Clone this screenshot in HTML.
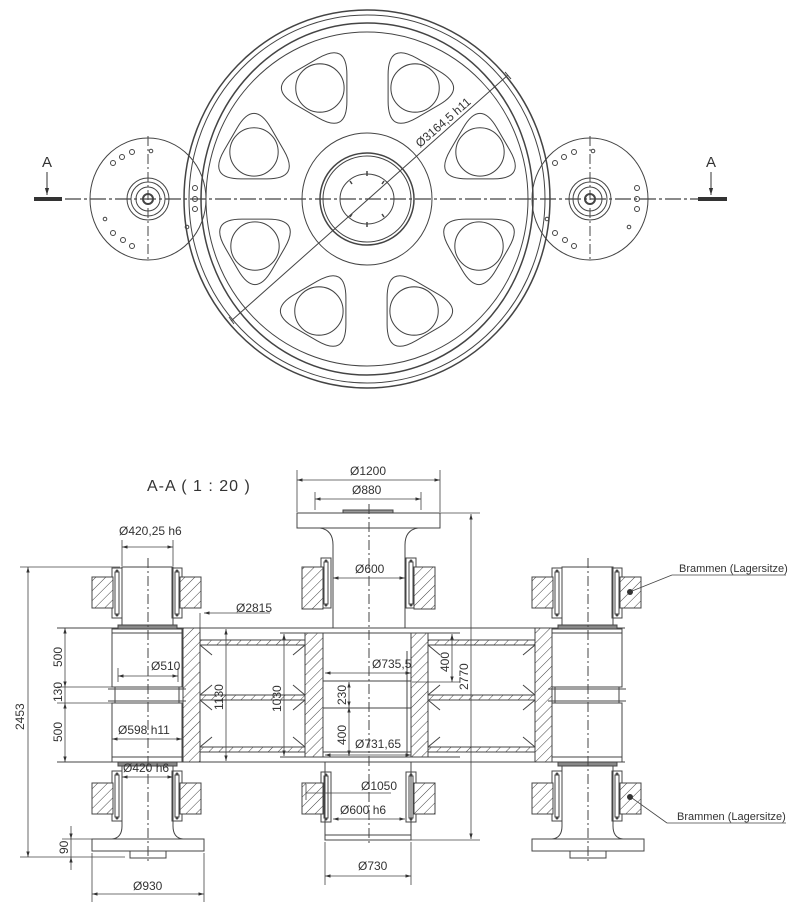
<!DOCTYPE html>
<html><head><meta charset="utf-8"><style>
html,body{margin:0;padding:0;background:#fff;}
svg{display:block;}
text{font-family:"Liberation Sans",sans-serif;fill:#333;}
</style></head><body>
<svg width="800" height="909" viewBox="0 0 800 909" xmlns="http://www.w3.org/2000/svg">
<defs>
<pattern id="h" patternUnits="userSpaceOnUse" width="7" height="7" patternTransform="rotate(45)">
<rect width="7" height="7" fill="#fff"/><line x1="0" y1="0" x2="0" y2="7" stroke="#444" stroke-width="1"/>
</pattern>
<marker id="a" viewBox="0 0 10 10" refX="10" refY="5" markerWidth="7" markerHeight="7" orient="auto-start-reverse"><path d="M0,2 L10,5 L0,8 z" fill="#333"/></marker>
<g id="hole">
<g transform="scale(0.93)">
<path d="M30,-14 L30,14 Q30,50 -1.1,31.9 L-24.9,18.1 Q-56,0 -24.9,-18.1 L-1.1,-31.9 Q30,-50 30,-14 Z" fill="none" stroke="#444" stroke-width="1.1"/>
<circle cx="1" cy="0" r="26" fill="none" stroke="#444" stroke-width="1.1"/>
</g>
</g>
<g id="side" fill="none" stroke="#444" stroke-width="1">
<ellipse cx="0" cy="0" rx="58" ry="61"/>
<circle r="21"/><circle r="17"/><circle r="12"/><circle r="5" stroke-width="2"/>
<circle cx="-35" cy="-36" r="2.5"/><circle cx="-26" cy="-42" r="2.5"/><circle cx="-16" cy="-47" r="2.5"/>
<circle cx="3" cy="-48" r="1.8"/>
<circle cx="47" cy="-11" r="2.5"/><circle cx="47" cy="0" r="2.5"/><circle cx="47" cy="10" r="2.5"/>
<circle cx="39" cy="28" r="1.8"/>
<circle cx="-35" cy="34" r="2.5"/><circle cx="-25" cy="41" r="2.5"/><circle cx="-16" cy="47" r="2.5"/>
<circle cx="-43" cy="20" r="1.8"/>
<line x1="0" y1="-63" x2="0" y2="63" stroke-dasharray="10,3,2,3"/>
</g>
<g id="brk" fill="none" stroke="#444" stroke-width="1">
<rect x="0" y="0" width="10" height="50"/><rect x="3" y="4" width="4" height="42"/>
<circle cx="5" cy="3" r="1" fill="#444"/><circle cx="5" cy="47" r="1" fill="#444"/>
</g>
<g id="unit" fill="none" stroke="#444" stroke-width="1">
<rect x="-26" y="567" width="51" height="59"/>
<use href="#brk" x="-36" y="568"/><use href="#brk" x="24" y="568"/>
<rect x="-56" y="577" width="21" height="31" fill="url(#h)"/>
<rect x="32" y="577" width="21" height="31" fill="url(#h)"/>
<rect x="-30" y="625" width="59" height="4" fill="#888"/>
<rect x="-36" y="629" width="70" height="58"/>
<line x1="-36" y1="633" x2="34" y2="633"/>
<rect x="-33" y="687" width="64" height="16"/>
<line x1="-40" y1="689" x2="38" y2="689"/><line x1="-40" y1="701" x2="38" y2="701"/>
<rect x="-36" y="703" width="70" height="59"/>
<line x1="-36" y1="757" x2="34" y2="757"/>
<rect x="-30" y="762" width="59" height="4" fill="#888"/>
<path d="M-26,766 L-26,826 Q-26,838 -36,839 M25,766 L25,826 Q25,838 35,839"/>
<use href="#brk" x="-36" y="771"/><use href="#brk" x="24" y="771"/>
<rect x="-56" y="783" width="21" height="31" fill="url(#h)"/>
<rect x="32" y="783" width="21" height="31" fill="url(#h)"/>
<rect x="-56" y="839" width="112" height="12"/>
<rect x="-18" y="851" width="36" height="7"/>
<line x1="0" y1="558" x2="0" y2="862" stroke-dasharray="10,3,2,3"/>
</g>
</defs>

<g fill="none" stroke="#444" stroke-width="1">
<ellipse cx="367" cy="199" rx="183" ry="189" stroke-width="1.5"/>
<ellipse cx="367" cy="199" rx="178" ry="184"/>
<ellipse cx="367" cy="199" rx="166" ry="176" stroke-width="1.5"/>
<ellipse cx="367" cy="199" rx="161" ry="167"/>
<ellipse cx="367" cy="199" rx="65" ry="66"/>
<ellipse cx="367" cy="199" rx="47" ry="46" stroke-width="1.5"/>
<ellipse cx="367" cy="199" rx="44" ry="43"/>
<ellipse cx="367" cy="199" rx="27" ry="25"/>
<g stroke-width="1.5">
<line x1="367" y1="171" x2="367" y2="176"/><line x1="367" y1="222" x2="367" y2="227"/>
<line x1="350" y1="181" x2="352" y2="184"/><line x1="384" y1="181" x2="382" y2="184"/>
<line x1="350" y1="217" x2="352" y2="214"/><line x1="384" y1="217" x2="382" y2="214"/>
</g>
<use href="#hole" transform="translate(319,88)"/>
<use href="#hole" transform="translate(416,88) scale(-1,1)"/>
<use href="#hole" transform="translate(480,151) rotate(90)"/>
<use href="#hole" transform="translate(479,247) rotate(-90)"/>
<use href="#hole" transform="translate(254,151) rotate(90)"/>
<use href="#hole" transform="translate(255,247) rotate(-90)"/>
<use href="#hole" transform="translate(318,311)"/>
<use href="#hole" transform="translate(415,311) scale(-1,1)"/>
<line x1="231" y1="321" x2="508" y2="75"/>
<line x1="229" y1="317" x2="234" y2="324"/><line x1="505" y1="72" x2="511" y2="79"/>
</g>
<text x="0" y="0" font-size="12" transform="translate(420,148) rotate(-41)">Ø3164,5 h11</text>
<use href="#side" x="148" y="199"/>
<use href="#side" x="590" y="199"/>
<line x1="40" y1="199" x2="720" y2="199" stroke="#444" stroke-width="1.3" stroke-dasharray="16,3,3,3"/>
<line x1="34" y1="199" x2="62" y2="199" stroke="#333" stroke-width="4"/>
<line x1="698" y1="199" x2="727" y2="199" stroke="#333" stroke-width="4"/>
<line x1="47" y1="172" x2="47" y2="195" stroke="#333" marker-end="url(#a)"/>
<line x1="711" y1="172" x2="711" y2="195" stroke="#333" marker-end="url(#a)"/>
<text x="42" y="167" font-size="15">A</text>
<text x="706" y="167" font-size="15">A</text>

<text x="147" y="491" font-size="16" letter-spacing="1">A-A ( 1 : 20 )</text>

<g fill="none" stroke="#444" stroke-width="1">
<line x1="57" y1="628" x2="625" y2="628"/>
<line x1="57" y1="762" x2="625" y2="762"/>
<line x1="280" y1="633" x2="460" y2="633"/>
<line x1="280" y1="757" x2="460" y2="757"/>
<rect x="183" y="628" width="17" height="134" fill="url(#h)"/>
<rect x="535" y="628" width="17" height="134" fill="url(#h)"/>
<rect x="200" y="640" width="105" height="5" fill="url(#h)"/>
<rect x="200" y="695" width="105" height="5" fill="url(#h)"/>
<rect x="200" y="747" width="105" height="5" fill="url(#h)"/>
<rect x="428" y="640" width="107" height="5" fill="url(#h)"/>
<rect x="428" y="695" width="107" height="5" fill="url(#h)"/>
<rect x="428" y="747" width="107" height="5" fill="url(#h)"/>
<path d="M200,645 L212,655 M200,695 L212,685 M200,700 L212,710 M200,747 L212,737 M305,645 L293,655 M305,695 L293,685 M305,700 L293,710 M305,747 L293,737"/>
<path d="M535,645 L523,655 M535,695 L523,685 M535,700 L523,710 M535,747 L523,737 M428,645 L440,655 M428,695 L440,685 M428,700 L440,710 M428,747 L440,737"/>
<rect x="305" y="633" width="18" height="124" fill="url(#h)"/>
<rect x="411" y="633" width="17" height="124" fill="url(#h)"/>
<rect x="323" y="681" width="88" height="27"/>
<line x1="407" y1="651" x2="407" y2="757"/>
<line x1="323" y1="752" x2="411" y2="752"/>
<rect x="297" y="513" width="143" height="15"/>
<rect x="343" y="510" width="50" height="3" fill="#999"/>
<path d="M333,628 L333,545 Q333,530 320,528 M405,628 L405,545 Q405,530 418,528"/>
<use href="#brk" x="321" y="558"/><use href="#brk" x="406" y="558"/>
<rect x="302" y="567" width="21" height="42" fill="url(#h)"/>
<rect x="414" y="567" width="21" height="42" fill="url(#h)"/>
<rect x="325" y="762" width="86" height="78"/>
<rect x="325" y="835" width="86" height="5"/>
<use href="#brk" x="321" y="772"/><use href="#brk" x="406" y="772"/>
<rect x="302" y="783" width="21" height="31" fill="url(#h)"/>
<rect x="414" y="783" width="21" height="31" fill="url(#h)"/>
<line x1="369" y1="504" x2="369" y2="845" stroke-dasharray="10,3,2,3"/>
</g>
<use href="#unit" x="148" y="0"/>
<use href="#unit" x="588" y="0"/>
<circle cx="630" cy="592" r="3" fill="#333"/>
<circle cx="630" cy="797" r="3" fill="#333"/>

<g fill="none" stroke="#444" stroke-width="0.8">
<line x1="297" y1="470" x2="297" y2="512"/><line x1="440" y1="470" x2="440" y2="512"/>
<line x1="297" y1="480" x2="440" y2="480" marker-start="url(#a)" marker-end="url(#a)"/>
<line x1="315" y1="492" x2="315" y2="510"/><line x1="421" y1="492" x2="421" y2="510"/>
<line x1="315" y1="499" x2="421" y2="499" marker-start="url(#a)" marker-end="url(#a)"/>
<line x1="122" y1="540" x2="122" y2="566"/><line x1="173" y1="540" x2="173" y2="566"/>
<line x1="122" y1="547" x2="173" y2="547" marker-start="url(#a)" marker-end="url(#a)"/>
<line x1="333" y1="578" x2="405" y2="578" marker-start="url(#a)" marker-end="url(#a)"/>
<line x1="270" y1="613" x2="204" y2="613" marker-end="url(#a)"/>
<line x1="200" y1="613" x2="200" y2="628"/>
<line x1="20" y1="567" x2="120" y2="567"/><line x1="20" y1="857" x2="125" y2="857"/>
<line x1="28" y1="567" x2="28" y2="857" marker-start="url(#a)" marker-end="url(#a)"/>
<line x1="57" y1="687" x2="112" y2="687"/><line x1="57" y1="703" x2="112" y2="703"/>
<line x1="65" y1="628" x2="65" y2="687" marker-start="url(#a)" marker-end="url(#a)"/>
<line x1="65" y1="687" x2="65" y2="703"/>
<line x1="65" y1="703" x2="65" y2="762" marker-start="url(#a)" marker-end="url(#a)"/>
<line x1="62" y1="839" x2="92" y2="839"/>
<line x1="71" y1="826" x2="71" y2="839" marker-end="url(#a)"/>
<line x1="71" y1="870" x2="71" y2="857" marker-end="url(#a)"/>
<line x1="71" y1="839" x2="71" y2="857"/>
<line x1="226" y1="629" x2="226" y2="761" marker-start="url(#a)" marker-end="url(#a)"/>
<line x1="284" y1="634" x2="284" y2="756" marker-start="url(#a)" marker-end="url(#a)"/>
<line x1="118" y1="668" x2="118" y2="682"/><line x1="178" y1="668" x2="178" y2="682"/>
<line x1="118" y1="676" x2="178" y2="676" marker-start="url(#a)" marker-end="url(#a)"/>
<line x1="325" y1="673" x2="411" y2="673" marker-start="url(#a)" marker-end="url(#a)"/>
<line x1="112" y1="739" x2="182" y2="739" marker-start="url(#a)" marker-end="url(#a)"/>
<line x1="325" y1="755" x2="411" y2="755" marker-start="url(#a)" marker-end="url(#a)"/>
<line x1="349" y1="682" x2="349" y2="707" marker-start="url(#a)" marker-end="url(#a)"/>
<line x1="349" y1="707" x2="349" y2="756" marker-start="url(#a)" marker-end="url(#a)"/>
<line x1="412" y1="682" x2="460" y2="682"/>
<line x1="452" y1="634" x2="452" y2="682" marker-start="url(#a)" marker-end="url(#a)"/>
<line x1="440" y1="513" x2="480" y2="513"/><line x1="411" y1="840" x2="480" y2="840"/>
<line x1="471" y1="514" x2="471" y2="839" marker-start="url(#a)" marker-end="url(#a)"/>
<line x1="122" y1="777" x2="173" y2="777" marker-start="url(#a)" marker-end="url(#a)"/>
<line x1="306" y1="793" x2="391" y2="793"/>
<line x1="306" y1="784" x2="306" y2="800"/>
<line x1="333" y1="819" x2="405" y2="819" marker-start="url(#a)" marker-end="url(#a)"/>
<line x1="325" y1="842" x2="325" y2="885"/><line x1="411" y1="842" x2="411" y2="885"/>
<line x1="325" y1="876" x2="411" y2="876" marker-start="url(#a)" marker-end="url(#a)"/>
<line x1="92" y1="853" x2="92" y2="902"/><line x1="204" y1="853" x2="204" y2="902"/>
<line x1="92" y1="894" x2="204" y2="894" marker-start="url(#a)" marker-end="url(#a)"/>
<line x1="632" y1="591" x2="672" y2="575"/><line x1="672" y1="575" x2="786" y2="575"/>
<line x1="632" y1="798" x2="667" y2="823"/><line x1="667" y1="823" x2="786" y2="823"/>
</g>
<g font-size="12">
<text x="350" y="475">Ø1200</text>
<text x="352" y="494">Ø880</text>
<text x="119" y="535">Ø420,25 h6</text>
<text x="355" y="573">Ø600</text>
<text x="236" y="612">Ø2815</text>
<text x="151" y="670">Ø510</text>
<text x="372" y="668">Ø735,5</text>
<text x="118" y="734">Ø598 h11</text>
<text x="355" y="748">Ø731,65</text>
<text x="123" y="772">Ø420 h6</text>
<text x="361" y="790">Ø1050</text>
<text x="340" y="814">Ø600 h6</text>
<text x="358" y="870">Ø730</text>
<text x="133" y="890">Ø930</text>
<text font-size="11" x="679" y="572">Brammen (Lagersitze)</text>
<text font-size="11" x="677" y="820">Brammen (Lagersitze)</text>
<text transform="translate(24,730) rotate(-90)">2453</text>
<text transform="translate(62,667) rotate(-90)">500</text>
<text transform="translate(62,702) rotate(-90)">130</text>
<text transform="translate(62,742) rotate(-90)">500</text>
<text transform="translate(68,854) rotate(-90)">90</text>
<text transform="translate(223,710) rotate(-90)">1130</text>
<text transform="translate(281,712) rotate(-90)">1030</text>
<text transform="translate(346,705) rotate(-90)">230</text>
<text transform="translate(346,745) rotate(-90)">400</text>
<text transform="translate(449,672) rotate(-90)">400</text>
<text transform="translate(468,690) rotate(-90)">2770</text>
</g>
</svg>
</body></html>
